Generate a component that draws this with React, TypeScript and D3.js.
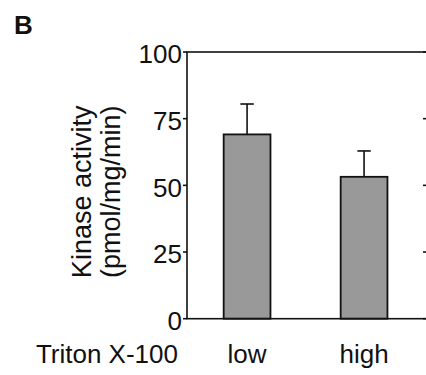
import React, { useEffect, useRef } from "react";
import * as d3 from "d3";

const categories = ["low", "high"];
const means = [69.1, 53.2];
const errors = [11.4, 9.7];
const yTicks = [0, 25, 50, 75, 100];

const FONT = "'Liberation Sans', Arial, Helvetica, sans-serif";

const App = () => {
  const svgRef = useRef<SVGSVGElement>(null);

  useEffect(() => {
    document.body.style.margin = "0";

    const width = 426;
    const height = 375;
    const margin = { top: 52, right: -2, bottom: 56.3, left: 187 };
    const innerW = width - margin.left - margin.right;
    const innerH = height - margin.top - margin.bottom;

    const svg = d3
      .select(svgRef.current)
      .attr("width", width)
      .attr("height", height)
      .style("display", "block");

    svg.selectAll("*").remove();

    const g = svg
      .append("g")
      .attr("transform", `translate(${margin.left},${margin.top})`);

    const x = d3
      .scaleBand()
      .domain(categories)
      .range([0, innerW])
      .paddingInner(0.6)
      .paddingOuter(0.33)
      .align(0.475);
    const y = d3.scaleLinear().domain([0, 100]).range([innerH, 0]);

    // bars
    g.selectAll(".bar")
      .data(categories)
      .enter()
      .append("rect")
      .attr("x", (d) => x(d)!)
      .attr("y", (d, i) => y(means[i]))
      .attr("width", x.bandwidth())
      .attr("height", (d, i) => innerH - y(means[i]))
      .attr("fill", "#999999")
      .attr("stroke", "#111")
      .attr("stroke-width", 1.8);

    // error bars (upper only)
    const capHalf = 6.7;
    categories.forEach((c, i) => {
      const cx = x(c)! + x.bandwidth() / 2;
      g.append("line")
        .attr("x1", cx)
        .attr("x2", cx)
        .attr("y1", y(means[i]))
        .attr("y2", y(means[i] + errors[i]))
        .attr("stroke", "#111")
        .attr("stroke-width", 1.6);
      g.append("line")
        .attr("x1", cx - capHalf)
        .attr("x2", cx + capHalf)
        .attr("y1", y(means[i] + errors[i]))
        .attr("y2", y(means[i] + errors[i]))
        .attr("stroke", "#111")
        .attr("stroke-width", 1.6);
    });

    // frame
    g.append("rect")
      .attr("x", 0)
      .attr("y", 0)
      .attr("width", innerW)
      .attr("height", innerH)
      .attr("fill", "none")
      .attr("stroke", "#111")
      .attr("stroke-width", 1.6);

    // left ticks (outward) and right ticks (inward)
    g.selectAll(".ltick")
      .data(yTicks)
      .enter()
      .append("line")
      .attr("x1", -4)
      .attr("x2", 0)
      .attr("y1", (d) => y(d))
      .attr("y2", (d) => y(d))
      .attr("stroke", "#111")
      .attr("stroke-width", 1.6);
    g.selectAll(".rtick")
      .data(yTicks)
      .enter()
      .append("line")
      .attr("x1", innerW - 5)
      .attr("x2", innerW)
      .attr("y1", (d) => y(d))
      .attr("y2", (d) => y(d))
      .attr("stroke", "#111")
      .attr("stroke-width", 1.6);

    g.selectAll(".tlabel")
      .data(yTicks)
      .enter()
      .append("text")
      .attr("x", -5)
      .attr("y", (d) => y(d))
      .attr("dy", "0.44em")
      .attr("text-anchor", "end")
      .attr("font-family", FONT)
      .attr("font-size", "26px")
      .attr("fill", "#111")
      .text((d) => d);

    // category labels
    g.selectAll(".xlabel")
      .data(categories)
      .enter()
      .append("text")
      .attr("x", (d) => x(d)! + x.bandwidth() / 2)
      .attr("y", innerH + 44.6)
      .attr("text-anchor", "middle")
      .attr("font-family", FONT)
      .attr("font-size", "26px")
      .attr("fill", "#111")
      .text((d) => d);

    svg
      .append("text")
      .attr("x", 178)
      .attr("y", margin.top + innerH + 44.6)
      .attr("text-anchor", "end")
      .attr("font-family", FONT)
      .attr("font-size", "26px")
      .attr("fill", "#111")
      .text("Triton X-100");

    // y axis title
    const yt = svg
      .append("text")
      .attr("transform", `translate(91, ${margin.top + innerH / 2 + 6.5}) rotate(-90)`)
      .attr("text-anchor", "middle")
      .attr("font-family", FONT)
      .attr("font-size", "27px")
      .attr("fill", "#111");
    yt.append("tspan").attr("x", 0).attr("y", 0).text("Kinase activity");
    yt.append("tspan").attr("x", 0).attr("y", 29).text("(pmol/mg/min)");

    // panel letter
    svg
      .append("text")
      .attr("x", 14)
      .attr("y", 34)
      .attr("font-family", FONT)
      .attr("font-size", "26px")
      .attr("font-weight", "bold")
      .attr("fill", "#111")
      .text("B");
  }, []);

  return <svg ref={svgRef}></svg>;
};

export default App;
